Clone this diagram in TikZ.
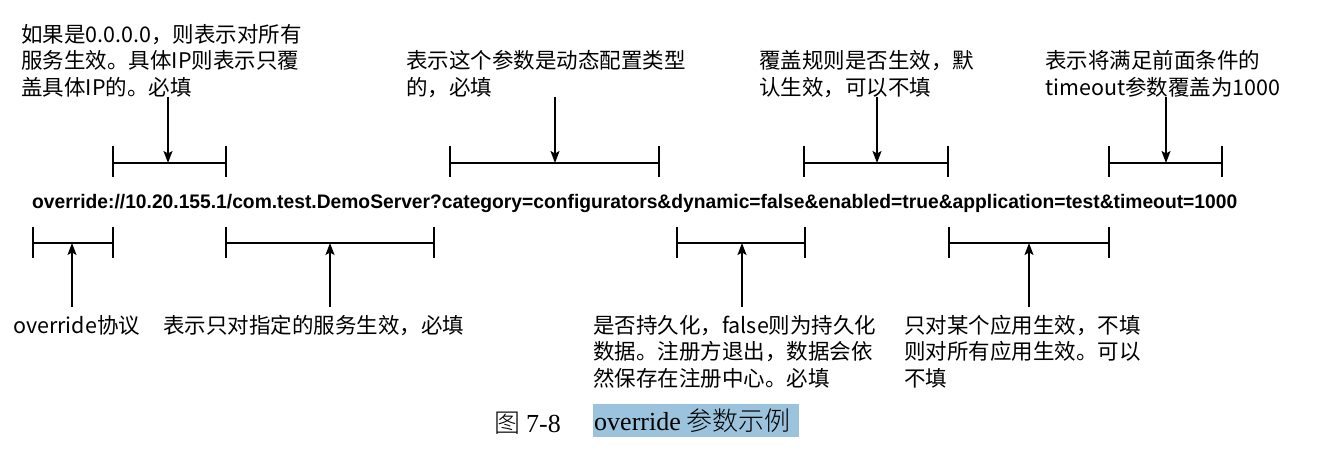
\documentclass[tikz,border=0pt]{standalone}
\usepackage{fontspec}
\usepackage{graphicx}
\usetikzlibrary{arrows.meta}
\setmainfont{Liberation Serif}
\newfontfamily\cjk{Noto Sans CJK SC}
\newfontfamily\urlfont{Liberation Sans}
\newfontfamily\song{Noto Sans CJK SC Light}
\definecolor{hl}{RGB}{156,195,221}
\begin{document}
\begin{tikzpicture}[x=1pt,y=-1pt,
  note/.style={font=\cjk\fontsize{21.5}{26.5}\selectfont, align=left, anchor=north west, inner sep=0pt},
  capfont/.style={font=\fontsize{26}{30}\selectfont},
  brk/.style={line width=1.4pt},
  ptr/.style={line width=1.3pt,-{Stealth[length=12pt,width=9pt,inset=2.5pt]}}]
\useasboundingbox (0,0) rectangle (1324,454);
\fill[white] (0,0) rectangle (1324,454);

% URL
\node[anchor=base west, inner sep=0pt, font=\urlfont\bfseries\fontsize{19.6}{20}\selectfont] (url) at (32,209)
  {\resizebox{1205pt}{\height}{override://10.20.155.1/com.test.DemoServer?category=configurators\&dynamic=false\&enabled=true\&application=test\&timeout=1000}};

% top brackets
\foreach \n/\a/\b/\m in {t1/113/226/168, t2/450/659/555, t3/804/948/877, t4/1109/1222/1166}{
  \coordinate (\n-l) at (\a,163);
  \coordinate (\n-r) at (\b,163);
  \coordinate (\n-m) at (\m,163);
  \coordinate (\n-s) at (\m,97);
  \draw[brk] (\a,146) -- (\a,177);
  \draw[brk] (\b,146) -- (\b,177);
  \draw[brk] (\n-l) -- (\n-r);
  \draw[ptr] (\n-s) -- (\n-m);
}
% bottom brackets
\foreach \n/\a/\b/\m in {b1/33/113/72, b2/226/434/330, b3/677/805/742, b4/949/1109/1029}{
  \coordinate (\n-l) at (\a,243);
  \coordinate (\n-r) at (\b,243);
  \coordinate (\n-m) at (\m,243);
  \coordinate (\n-s) at (\m,307);
  \draw[brk] (\a,227) -- (\a,258);
  \draw[brk] (\b,227) -- (\b,258);
  \draw[brk] (\n-l) -- (\n-r);
  \draw[ptr] (\n-s) -- (\n-m);
}

% top notes
\node[note] (n1) at (21,24) {如果是0.0.0.0，则表示对所有\\服务生效。具体IP则表示只覆\\盖具体IP的。必填};
\node[note] (n2) at (406,50.5) {表示这个参数是动态配置类型\\的，必填};
\node[note] (n3) at (759,50.5) {覆盖规则是否生效，默\\认生效，可以不填};
\node[note] (n4) at (1045,50.5) {表示将满足前面条件的\\timeout参数覆盖为1000};

% bottom notes
\node[note] (m1) at (13,315) {override协议};
\node[note] (m2) at (163,315) {表示只对指定的服务生效，必填};
\node[note] (m3) at (593,315) {是否持久化，false则为持久化\\数据。注册方退出，数据会依\\然保存在注册中心。必填};
\node[note] (m4) at (904,315) {只对某个应用生效，不填\\则对所有应用生效。可以\\不填};

% caption
\node[capfont, anchor=base west, inner sep=0pt] (figno) at (494,432) {\song 图};
\node[capfont, anchor=base west, inner sep=0pt] (fignum) at (526,432) {7-8};
\node[capfont, anchor=west, fill=hl, minimum width=206pt, minimum height=33pt, inner sep=1pt, text width=204pt, align=left] (cap) at (593,420.5)
  {override\hspace{6pt}{\song 参数示例}};
\end{tikzpicture}
\end{document}
